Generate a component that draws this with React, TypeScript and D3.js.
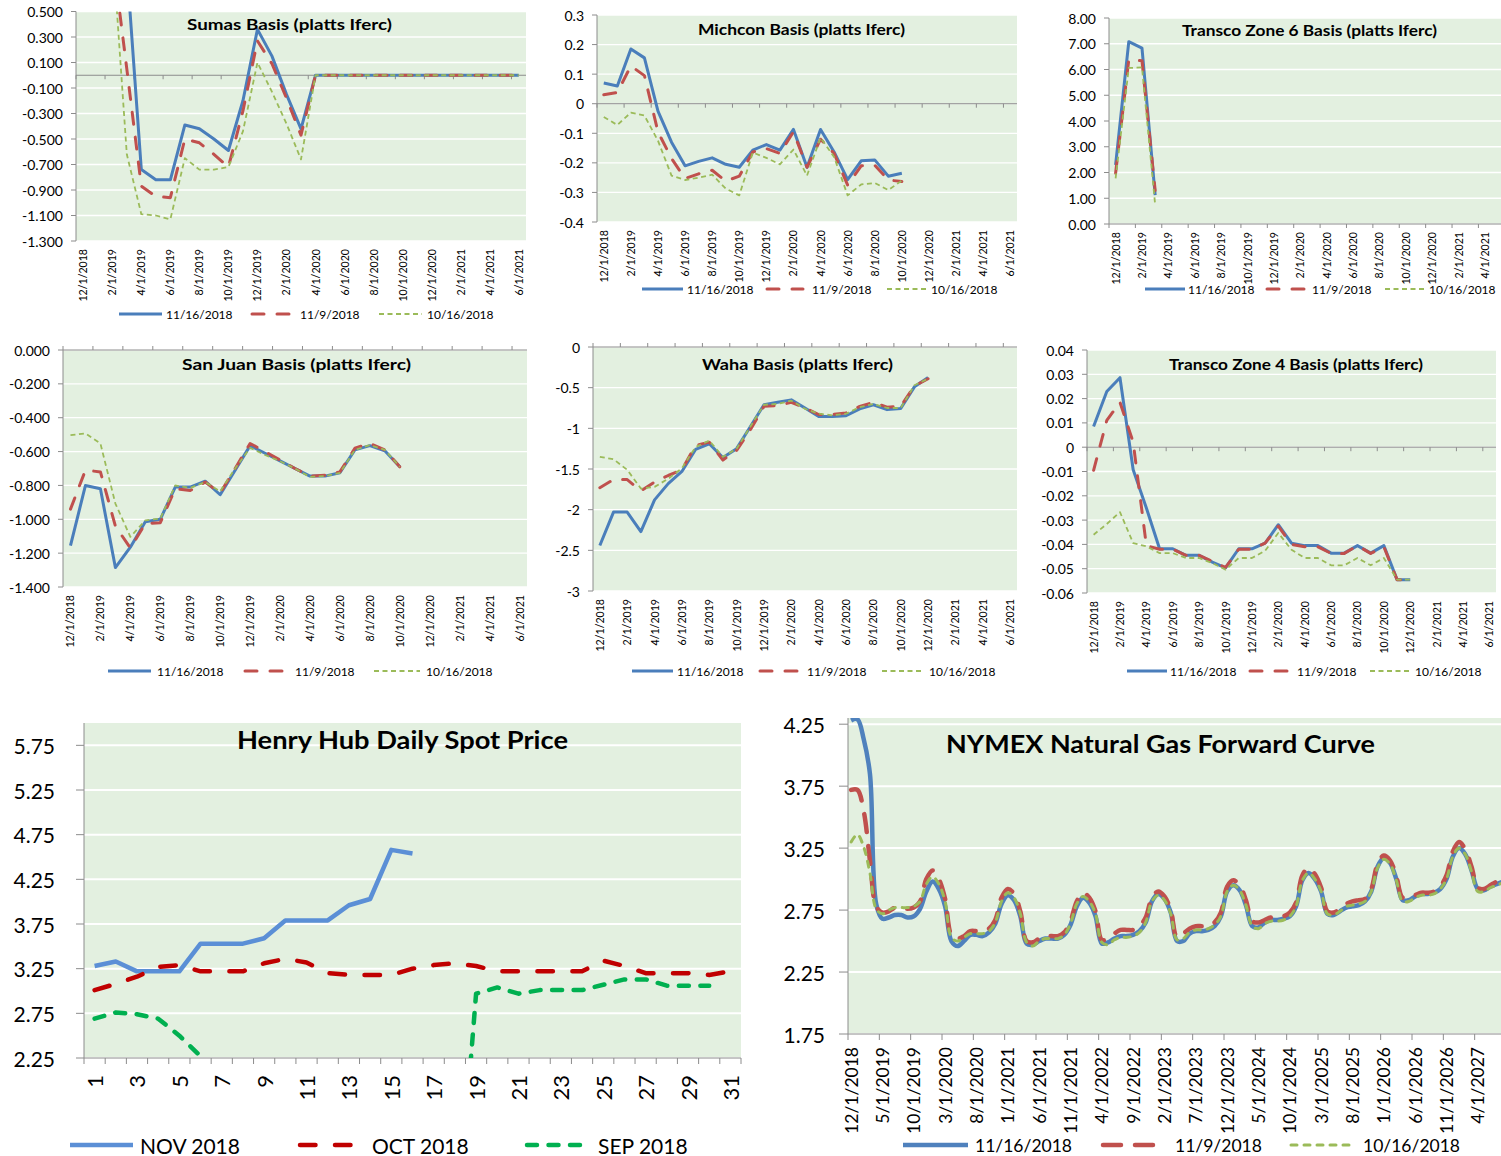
import { useEffect, useRef } from 'react';
import * as d3 from 'd3';

const FONT = "Lato, 'Open Sans', 'DejaVu Sans', sans-serif";
const BG = '#e3f0e0';
const AXIS = '#8c8c8c';
const PAGE_W = 1501;

const SERIES_NAMES = ['11/16/2018', '11/9/2018', '10/16/2018'];
const HH_NAMES = ['NOV 2018', 'OCT 2018', 'SEP 2018'];

const fmtDate = d3.timeFormat('%-m/%-d/%Y');
const basisMonths = d3.timeMonth.range(new Date(2018, 11, 1), new Date(2021, 6, 1)).map(fmtDate);
const nymexMonths = d3.timeMonth.range(new Date(2018, 11, 1), new Date(2027, 8, 1)).map(fmtDate);
const hhDays = ['1', '2', '3', '4', '5', '6', '7', '8', '9', '10', '11', '12', '13', '14', '15', '16',
  '17', '18', '19', '20', '21', '22', '23', '24', '25', '26', '27', '28', '29', '30', '31'];

// tick values
const sumasTicks = [0.5, 0.3, 0.1, -0.1, -0.3, -0.5, -0.7, -0.9, -1.1, -1.3];
const michconTicks = [0.3, 0.2, 0.1, 0, -0.1, -0.2, -0.3, -0.4];
const z6Ticks = [8, 7, 6, 5, 4, 3, 2, 1, 0];
const sanJuanTicks = [0, -0.2, -0.4, -0.6, -0.8, -1.0, -1.2, -1.4];
const wahaTicks = [0, -0.5, -1, -1.5, -2, -2.5, -3];
const z4Ticks = [0.04, 0.03, 0.02, 0.01, 0, -0.01, -0.02, -0.03, -0.04, -0.05, -0.06];
const hhTicks = [5.75, 5.25, 4.75, 4.25, 3.75, 3.25, 2.75, 2.25];
const nymexTicks = [4.25, 3.75, 3.25, 2.75, 2.25, 1.75];

// Sumas
const sumas1116 = [3.2, 3.9, 2.6, 0.85, -0.74, -0.82, -0.82, -0.39, -0.42, -0.5, -0.59, -0.2, 0.36, 0.15, -0.15, -0.42,
  0, 0, 0, 0, 0, 0, 0, 0, 0, 0, 0, 0, 0, 0, 0];
const sumas1109 = [2.8, 3.4, 0.96, 0.05, -0.87, -0.95, -0.96, -0.5, -0.53, -0.62, -0.72, -0.28, 0.27, 0.09, -0.18, -0.47,
  0, 0, 0, 0, 0, 0, 0, 0, 0, 0, 0, 0, 0, 0, 0];
const sumas1016 = [2.5, 3.0, 1.03, -0.62, -1.09, -1.1, -1.13, -0.65, -0.74, -0.74, -0.72, -0.44, 0.1, -0.13, -0.38, -0.66,
  0, 0, 0, 0, 0, 0, 0, 0, 0, 0, 0, 0, 0, 0, 0];

// Michcon
const michcon1116 = [0.07, 0.06, 0.185, 0.155, -0.025, -0.13, -0.21, -0.195, -0.183, -0.205, -0.215, -0.157, -0.138,
  -0.157, -0.087, -0.215, -0.087, -0.163, -0.257, -0.193, -0.19, -0.245, -0.235];
const michcon1109 = [0.03, 0.038, 0.128, 0.095, -0.095, -0.185, -0.253, -0.237, -0.225, -0.262, -0.245, -0.163, -0.152,
  -0.168, -0.095, -0.215, -0.12, -0.168, -0.275, -0.21, -0.208, -0.258, -0.263];
const michcon1016 = [-0.045, -0.072, -0.03, -0.04, -0.125, -0.243, -0.258, -0.25, -0.24, -0.287, -0.31, -0.165, -0.183,
  -0.205, -0.155, -0.243, -0.115, -0.18, -0.31, -0.273, -0.268, -0.292, -0.26];

// Transco Zone 6
const z61116 = [2.29, 7.08, 6.83, 1.12];
const z61109 = [1.97, 6.38, 6.34, 1.3];
const z61016 = [1.77, 6.06, 6.08, 0.74];

// San Juan
const sj1116 = [-1.155, -0.8, -0.82, -1.285, -1.165, -1.015, -1.0, -0.81, -0.81, -0.775, -0.855, -0.71, -0.565, -0.61,
  -0.655, -0.7, -0.745, -0.745, -0.725, -0.59, -0.565, -0.595, -0.69];
const sj1109 = [-0.94, -0.71, -0.72, -1.04, -1.17, -1.025, -1.02, -0.82, -0.83, -0.78, -0.845, -0.7, -0.552, -0.6,
  -0.65, -0.7, -0.745, -0.74, -0.72, -0.58, -0.552, -0.59, -0.69];
const sj1016 = [-0.503, -0.493, -0.552, -0.907, -1.104, -1.006, -0.996, -0.8, -0.815, -0.78, -0.835, -0.7, -0.578, -0.62,
  -0.657, -0.7, -0.75, -0.745, -0.726, -0.59, -0.562, -0.59, -0.69];

// Waha
const waha1116 = [-2.44, -2.03, -2.03, -2.27, -1.88, -1.68, -1.53, -1.26, -1.19, -1.36, -1.25, -0.98, -0.71, -0.68,
  -0.65, -0.75, -0.855, -0.855, -0.845, -0.76, -0.71, -0.77, -0.755, -0.49, -0.375];
const waha1109 = [-1.73, -1.63, -1.63, -1.77, -1.66, -1.58, -1.51, -1.21, -1.17, -1.39, -1.27, -1.02, -0.73, -0.72,
  -0.68, -0.75, -0.83, -0.83, -0.81, -0.73, -0.68, -0.74, -0.73, -0.48, -0.39];
const waha1016 = [-1.35, -1.38, -1.51, -1.74, -1.72, -1.62, -1.49, -1.23, -1.15, -1.35, -1.25, -0.98, -0.71, -0.7,
  -0.66, -0.76, -0.82, -0.84, -0.82, -0.74, -0.7, -0.75, -0.75, -0.47, -0.39];

// Transco Zone 4
const z41116 = [0.0085, 0.0229, 0.0286, -0.0093, -0.025, -0.0418, -0.0418, -0.0445, -0.0445, -0.0473, -0.0497, -0.0418,
  -0.0418, -0.0395, -0.0319, -0.0395, -0.0405, -0.0405, -0.0436, -0.0436, -0.0405, -0.0436, -0.0405, -0.0545, -0.0545];
const z41109 = [-0.0095, 0.011, 0.0185, 0.002, -0.0405, -0.042, -0.042, -0.0445, -0.0445, -0.047, -0.0495, -0.042,
  -0.042, -0.0395, -0.0325, -0.04, -0.041, -0.041, -0.0437, -0.0437, -0.0405, -0.0437, -0.041, -0.0545, -0.0545];
const z41016 = [-0.036, -0.0316, -0.0267, -0.0395, -0.0408, -0.0436, -0.0436, -0.0456, -0.0456, -0.0477, -0.0504, -0.0456,
  -0.0456, -0.0426, -0.0353, -0.0422, -0.0456, -0.0456, -0.0486, -0.0486, -0.0456, -0.0486, -0.0456, -0.0545, -0.0545];

// Henry Hub daily spot
const hhNov = [3.28, 3.33, 3.22, 3.22, 3.22, 3.53, 3.53, 3.53, 3.59, 3.79, 3.79, 3.79, 3.96, 4.03, 4.58, 4.54];
const hhOct = [3.01, 3.08, 3.16, 3.27, 3.29, 3.22, 3.22, 3.22, 3.31, 3.36, 3.32, 3.2, 3.18, 3.18, 3.18, 3.25, 3.29, 3.31,
  3.28, 3.22, 3.22, 3.22, 3.22, 3.22, 3.34, 3.28, 3.2, 3.2, 3.2, 3.18, 3.22];
const hhSep = [2.69, 2.76, 2.74, 2.69, 2.5, 2.27, 0, 0, 0, 0, 0, 0, 0, 0, 0, 0, 0, 0, 2.97, 3.04, 2.97, 3.01, 3.01, 3.01,
  3.07, 3.13, 3.13, 3.06, 3.06, 3.06];

// NYMEX forward curve
const nymex1116 = [
  4.28, 4.29, 4.13, 3.85, 2.8, 2.68, 2.69, 2.71, 2.71, 2.69, 2.7, 2.76,
  2.9, 2.98, 2.92, 2.78, 2.5, 2.46, 2.5, 2.55, 2.55, 2.54, 2.57, 2.64,
  2.8, 2.87, 2.83, 2.7, 2.48, 2.47, 2.5, 2.52, 2.52, 2.52, 2.55, 2.63,
  2.78, 2.85, 2.81, 2.7, 2.48, 2.49, 2.52, 2.54, 2.54, 2.55, 2.58, 2.65,
  2.82, 2.88, 2.84, 2.73, 2.5, 2.5, 2.56, 2.58, 2.58, 2.59, 2.62, 2.7,
  2.9, 2.95, 2.91, 2.79, 2.62, 2.61, 2.65, 2.67, 2.67, 2.68, 2.7, 2.78,
  2.99, 3.05, 3.0, 2.9, 2.72, 2.71, 2.74, 2.77, 2.78, 2.79, 2.82, 2.9,
  3.1, 3.17, 3.13, 3.0, 2.83, 2.83, 2.86, 2.88, 2.88, 2.89, 2.92, 3.0,
  3.18, 3.25, 3.2, 3.07, 2.92, 2.91, 2.94, 2.96, 2.98];
const nymex1109 = [
  3.72, 3.72, 3.55, 3.15, 2.78, 2.73, 2.74, 2.77, 2.77, 2.76, 2.77, 2.82,
  3.0, 3.07, 3.0, 2.84, 2.55, 2.52, 2.54, 2.58, 2.58, 2.58, 2.6, 2.67,
  2.85, 2.92, 2.88, 2.74, 2.5, 2.49, 2.52, 2.54, 2.54, 2.54, 2.57, 2.66,
  2.82, 2.89, 2.85, 2.74, 2.51, 2.52, 2.56, 2.59, 2.59, 2.59, 2.62, 2.69,
  2.85, 2.9, 2.86, 2.75, 2.53, 2.56, 2.6, 2.62, 2.62, 2.62, 2.65, 2.73,
  2.94, 2.99, 2.95, 2.83, 2.66, 2.65, 2.67, 2.69, 2.69, 2.7, 2.73, 2.81,
  3.03, 3.09, 3.04, 2.93, 2.74, 2.73, 2.76, 2.8, 2.82, 2.83, 2.84, 2.92,
  3.12, 3.19, 3.15, 3.02, 2.85, 2.85, 2.87, 2.89, 2.89, 2.9, 2.94, 3.03,
  3.22, 3.3, 3.24, 3.1, 2.93, 2.92, 2.95, 2.98, 3.0];
const nymex1016 = [
  3.3, 3.36, 3.26, 3.05, 2.76, 2.72, 2.75, 2.77, 2.77, 2.77, 2.78, 2.82,
  2.96, 3.02, 2.96, 2.82, 2.53, 2.5, 2.53, 2.56, 2.56, 2.56, 2.58, 2.65,
  2.82, 2.89, 2.85, 2.72, 2.49, 2.46, 2.5, 2.52, 2.52, 2.52, 2.55, 2.64,
  2.8, 2.86, 2.82, 2.72, 2.49, 2.47, 2.51, 2.53, 2.53, 2.54, 2.57, 2.65,
  2.82, 2.87, 2.83, 2.72, 2.51, 2.52, 2.57, 2.59, 2.59, 2.6, 2.63, 2.7,
  2.9, 2.95, 2.91, 2.79, 2.62, 2.6, 2.64, 2.66, 2.66, 2.67, 2.7, 2.78,
  2.99, 3.05, 3.0, 2.9, 2.72, 2.71, 2.74, 2.78, 2.79, 2.8, 2.82, 2.9,
  3.09, 3.16, 3.12, 2.99, 2.82, 2.82, 2.85, 2.87, 2.87, 2.88, 2.92, 3.0,
  3.18, 3.25, 3.2, 3.06, 2.9, 2.9, 2.93, 2.95, 2.97];

const BASIS_STYLES = [
  { color: '#4a7ebb', width: 3, dash: null, cap: 'butt' },
  { color: '#c0504d', width: 3, dash: '12 13', cap: 'round' },
  { color: '#9bbb59', width: 1.8, dash: '5 3.5', cap: 'butt' },
];
const HH_STYLES = [
  { color: '#5b8fd6', width: 4.5, dash: null, cap: 'butt' },
  { color: '#c00000', width: 4.5, dash: '15.5 19.5', cap: 'round' },
  { color: '#00b050', width: 4.5, dash: '10 11.5', cap: 'round' },
];
const NYMEX_STYLES = [
  { color: '#4f81bd', width: 4.5, dash: null, cap: 'butt' },
  { color: '#c0504d', width: 4.5, dash: '18 14', cap: 'round' },
  { color: '#9bbb59', width: 3, dash: '6 7', cap: 'round' },
];

const f3 = (v: number) => (Math.abs(v) < 1e-9 ? 0 : v).toFixed(3);
const f2 = (v: number) => (Math.abs(v) < 1e-9 ? 0 : v).toFixed(2);
const gen = (v: number) => String(+v.toFixed(4));

const small = {
  yFont: 14, yGap: 13, yTick: 5, xFont: 10.6, xGap: 8, xTick: 4, gridW: 1.3,
  legendFont: 12, titleSize: 16, tickEvery: 2, labelEvery: 2, cross: 0,
  cats: basisMonths, names: SERIES_NAMES, styles: BASIS_STYLES,
};

function drawChart(svg: any, c: any) {
  const g = svg.append('g');
  const n = c.cats.length;
  const x = d3.scaleBand<number>().domain(d3.range(n)).range([c.x0, c.x1]);
  const bw = x.bandwidth();
  const cx = (i: number) => (x(i) as number) + bw / 2;
  const y = d3.scaleLinear().domain(c.domain).range([c.y1, c.y0]);

  g.append('rect').attr('x', c.x0).attr('y', c.y0).attr('width', c.x1 - c.x0).attr('height', c.y1 - c.y0).attr('fill', BG);
  g.selectAll('.grid').data(c.ticks).enter().append('line')
    .attr('x1', c.x0).attr('x2', c.x1).attr('y1', (d: number) => y(d)).attr('y2', (d: number) => y(d))
    .attr('stroke', '#fff').attr('stroke-width', c.gridW);

  // value axis
  g.append('line').attr('x1', c.x0).attr('x2', c.x0).attr('y1', c.y0).attr('y2', c.y1).attr('stroke', AXIS);
  g.selectAll('.ytick').data(c.ticks).enter().append('line')
    .attr('x1', c.x0 - c.yTick).attr('x2', c.x0).attr('y1', (d: number) => y(d)).attr('y2', (d: number) => y(d))
    .attr('stroke', AXIS);
  g.selectAll('.ylab').data(c.ticks).enter().append('text')
    .attr('x', c.x0 - c.yGap).attr('y', (d: number) => y(d)).attr('text-anchor', 'end')
    .attr('dominant-baseline', 'central').style('font-size', c.yFont + 'px').attr('fill', '#000')
    .text(c.fmt);

  // category axis
  const ya = y(c.cross);
  g.append('line').attr('x1', c.x0).attr('x2', c.x1).attr('y1', ya).attr('y2', ya).attr('stroke', AXIS);
  g.selectAll('.xtick').data(d3.range(0, n + 1, c.tickEvery)).enter().append('line')
    .attr('x1', (k: number) => c.x0 + k * bw).attr('x2', (k: number) => c.x0 + k * bw)
    .attr('y1', ya).attr('y2', ya + c.tickDir * c.xTick).attr('stroke', AXIS);
  // labels past the page edge are cropped away in the original screenshot
  const labIdx = d3.range(0, n, c.labelEvery).filter(i => cx(i) + c.xFont * 0.6 < PAGE_W);
  g.selectAll('.xlab').data(labIdx).enter().append('text')
    .attr('transform', (i: number) => `translate(${cx(i)},${c.y1 + c.xGap}) rotate(-90)`)
    .attr('text-anchor', 'end').attr('dominant-baseline', 'central')
    .style('font-size', c.xFont + 'px').text((i: number) => c.cats[i]);

  // series
  const clipId = 'clip-' + c.id;
  svg.append('clipPath').attr('id', clipId).append('rect')
    .attr('x', c.x0).attr('y', c.y0).attr('width', c.x1 - c.x0).attr('height', c.y1 - c.y0);
  const line = d3.line<number>().x((_, i) => cx(i)).y(v => y(v)).curve(c.curve || d3.curveLinear);
  c.series.forEach((s: number[], k: number) => {
    const st = c.styles[k];
    g.append('path').datum(s).attr('clip-path', `url(#${clipId})`).attr('fill', 'none')
      .attr('stroke', st.color).attr('stroke-width', st.width).attr('stroke-dasharray', st.dash)
      .attr('stroke-linecap', st.cap).attr('stroke-linejoin', 'round').attr('d', line);
  });

  // title
  g.append('text').attr('x', c.titleX).attr('y', c.titleY).attr('text-anchor', 'middle')
    .attr('textLength', c.titleLen).attr('lengthAdjust', 'spacingAndGlyphs')
    .style('font-size', c.titleSize + 'px').style('font-weight', 700).text(c.title);

  // legend
  c.legend.forEach((p: number[], k: number) => {
    const st = c.styles[k];
    g.append('line').attr('x1', p[0]).attr('x2', p[1]).attr('y1', c.legendY).attr('y2', c.legendY)
      .attr('stroke', st.color).attr('stroke-width', st.width).attr('stroke-dasharray', st.dash)
      .attr('stroke-linecap', st.cap);
    g.append('text').attr('x', p[2]).attr('y', c.legendY).attr('dominant-baseline', 'central')
      .style('font-size', c.legendFont + 'px').text(c.names[k]);
  });
}

const charts = [
  {
    ...small, id: 'sumas', x0: 76, x1: 526, y0: 11.5, y1: 241, domain: [-1.3, 0.5], ticks: sumasTicks, fmt: f3, tickDir: 1,
    title: 'Sumas Basis (platts Iferc)', titleX: 289.5, titleY: 30, titleLen: 205,
    series: [sumas1116, sumas1109, sumas1016], legendY: 314, legend: [[119, 162, 166], [252, 293, 300], [379, 422, 427]],
  },
  {
    ...small, id: 'michcon', x0: 597, x1: 1017, y0: 15, y1: 222, domain: [-0.4, 0.3], ticks: michconTicks, fmt: gen, tickDir: 1,
    title: 'Michcon Basis (platts Iferc)', titleX: 801.5, titleY: 35, titleLen: 207,
    series: [michcon1116, michcon1109, michcon1016], legendY: 289, legend: [[642, 683, 687], [767, 803, 812], [887, 927, 931]],
  },
  {
    ...small, id: 'z6', x0: 1109, x1: 1518, y0: 18, y1: 224, domain: [0, 8], ticks: z6Ticks, fmt: f2, tickDir: 1,
    title: 'Transco Zone 6  Basis (platts Iferc)', titleX: 1309.5, titleY: 36, titleLen: 255,
    series: [z61116, z61109, z61016], legendY: 289, legend: [[1145, 1185, 1188], [1267, 1305, 1312], [1385, 1425, 1429]],
  },
  {
    ...small, id: 'sj', x0: 63, x1: 527, y0: 350, y1: 587, domain: [-1.4, 0], ticks: sanJuanTicks, fmt: f3, tickDir: -1,
    title: 'San Juan Basis (platts Iferc)', titleX: 296.5, titleY: 370, titleLen: 229,
    series: [sj1116, sj1109, sj1016], legendY: 671, legend: [[108, 151, 157], [245, 286, 295], [374, 420, 426]],
  },
  {
    ...small, id: 'waha', x0: 593, x1: 1017, y0: 347, y1: 591, domain: [-3, 0], ticks: wahaTicks, fmt: gen, tickDir: -1,
    title: 'Waha Basis (platts Iferc)', titleX: 797.5, titleY: 370, titleLen: 191,
    series: [waha1116, waha1109, waha1016], legendY: 671, legend: [[632, 673, 677], [760, 798, 807], [882, 923, 929]],
  },
  {
    ...small, id: 'z4', x0: 1087, x1: 1496, y0: 350, y1: 593, domain: [-0.06, 0.04], ticks: z4Ticks, fmt: gen, tickDir: 1,
    title: 'Transco Zone 4 Basis (platts Iferc)', titleX: 1296, titleY: 370, titleLen: 254,
    series: [z41116, z41109, z41016], legendY: 671, legend: [[1127, 1167, 1170], [1250, 1287, 1297], [1370, 1410, 1415]],
  },
  {
    id: 'hh', x0: 84, x1: 741, y0: 723, y1: 1058, domain: [2.25, 6.0], ticks: hhTicks, fmt: f2, cross: 2.25, tickDir: 1,
    tickEvery: 1, labelEvery: 2, cats: hhDays, yFont: 21, yGap: 29, yTick: 8, xFont: 22, xGap: 17, xTick: 6, gridW: 2,
    title: 'Henry Hub Daily Spot Price', titleX: 402.5, titleY: 749, titleLen: 331, titleSize: 25,
    series: [hhNov, hhOct, hhSep], styles: HH_STYLES, names: HH_NAMES, legendFont: 21,
    legendY: 1145, legend: [[70, 133, 140], [300, 358, 372], [527, 585, 598]],
  },
  {
    id: 'nymex', x0: 848, x1: 1506, y0: 718, y1: 1034, domain: [1.75, 4.3], ticks: nymexTicks, fmt: f2, cross: 1.75, tickDir: 1,
    tickEvery: 5, labelEvery: 5, cats: nymexMonths, yFont: 21, yGap: 23, yTick: 9, xFont: 17.5, xGap: 13, xTick: 6, gridW: 2,
    title: 'NYMEX Natural Gas Forward Curve', titleX: 1160.5, titleY: 753, titleLen: 429, titleSize: 25,
    series: [nymex1116, nymex1109, nymex1016], styles: NYMEX_STYLES, names: SERIES_NAMES, legendFont: 17.5,
    curve: d3.curveCatmullRom, legendY: 1145, legend: [[903, 968, 975], [1103, 1163, 1175], [1291, 1356, 1363]],
  },
];

export default function App() {
  const ref = useRef<SVGSVGElement>(null);
  useEffect(() => {
    if (!ref.current) return;
    const svg = d3.select(ref.current);
    svg.selectAll('*').remove();
    charts.forEach(c => drawChart(svg, c));
  }, []);
  return (
    <svg ref={ref} width={PAGE_W} height={1156}
      style={{ position: 'absolute', left: 0, top: 0, background: '#fff', fontFamily: FONT }} />
  );
}
